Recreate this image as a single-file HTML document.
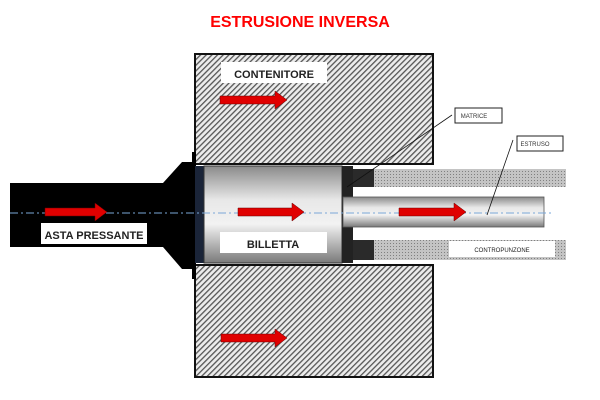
<!DOCTYPE html>
<html><head><style>body{margin:0;background:#fff}svg{display:block}</style></head><body>
<svg width="600" height="400" viewBox="0 0 600 400" xmlns="http://www.w3.org/2000/svg" font-family="Liberation Sans, sans-serif">
<defs>
<pattern id="h" width="4" height="4" patternUnits="userSpaceOnUse" patternTransform="rotate(45)">
<rect width="4" height="4" fill="#ececec"/><rect width="1.3" height="4" fill="#555"/></pattern>
<pattern id="d" width="3" height="3" patternUnits="userSpaceOnUse">
<rect width="3" height="3" fill="#c4c4c4"/><rect width="1" height="1" fill="#808080"/></pattern>
<linearGradient id="g" x1="0" y1="0" x2="0" y2="1">
<stop offset="0" stop-color="#8a8a8a"/><stop offset="0.35" stop-color="#e8e8e8"/><stop offset="0.6" stop-color="#f2f2f2"/><stop offset="1" stop-color="#7a7a7a"/></linearGradient>
</defs>
<text x="300" y="27" text-anchor="middle" font-size="16" font-weight="bold" fill="#f00">ESTRUSIONE INVERSA</text>
<rect x="195" y="54" width="238" height="110" fill="url(#h)" stroke="#111" stroke-width="2"/>
<rect x="195" y="265" width="238" height="112" fill="url(#h)" stroke="#111" stroke-width="2"/>
<rect x="374" y="169" width="192" height="18" fill="url(#d)"/>
<rect x="374" y="240" width="192" height="20" fill="url(#d)"/>
<polygon points="10,183 163,183 182,162 192,162 192,152 196,152 196,279 192,279 192,269 182,269 163,247 10,247" fill="#000"/>
<rect x="195" y="166" width="10" height="97" fill="#1a2438"/>
<rect x="204" y="166" width="138" height="97" fill="url(#g)" stroke="#333" stroke-width="1"/>
<rect x="342" y="166" width="11" height="97" fill="#222"/>
<rect x="353" y="169" width="21" height="18" fill="#2a2a2a"/>
<rect x="353" y="240" width="21" height="20" fill="#2a2a2a"/>
<rect x="343" y="197" width="201" height="30" fill="url(#g)" stroke="#555" stroke-width="0.8"/>
<line x1="10" y1="213" x2="552" y2="213" stroke="#7aa7d8" stroke-width="1" stroke-dasharray="8,3,2,3"/>
<g fill="#e00000" stroke="#600" stroke-width="0.5">
<polygon points="45,208 95,208 95,203 107,212 95,221 95,216 45,216"/>
<polygon points="238,208 292,208 292,203 304,212 292,221 292,216 238,216"/>
<polygon points="399,208 454,208 454,203 466,212 454,221 454,216 399,216"/>
<polygon points="220,96 275,96 275,91 287,100 275,109 275,104 220,104"/>
<polygon points="221,334 275,334 275,329 287,338 275,347 275,342 221,342"/>
</g>
<rect x="221" y="62" width="106" height="21" fill="#fff"/>
<text x="274" y="78" text-anchor="middle" font-size="11" font-weight="bold" fill="#222">CONTENITORE</text>
<rect x="41" y="223" width="106" height="21" fill="#fff"/>
<text x="94" y="239" text-anchor="middle" font-size="11" font-weight="bold" fill="#222">ASTA PRESSANTE</text>
<rect x="220" y="232" width="107" height="21" fill="#fff"/>
<text x="273" y="248" text-anchor="middle" font-size="11" font-weight="bold" fill="#222">BILLETTA</text>
<rect x="449" y="241" width="106" height="16" fill="#fff"/>
<text x="502" y="252" text-anchor="middle" font-size="6" fill="#222">CONTROPUNZONE</text>
<line x1="452" y1="115" x2="347" y2="187" stroke="#111" stroke-width="0.8"/>
<line x1="513" y1="140" x2="487" y2="215" stroke="#111" stroke-width="0.8"/>
<rect x="455" y="108" width="47" height="15" fill="#fff" stroke="#222" stroke-width="1"/>
<text x="474" y="118" text-anchor="middle" font-size="6" fill="#333">MATRICE</text>
<rect x="517" y="136" width="46" height="15" fill="#fff" stroke="#222" stroke-width="1"/>
<text x="535" y="146" text-anchor="middle" font-size="6" fill="#333">ESTRUSO</text>
</svg>
</body></html>
